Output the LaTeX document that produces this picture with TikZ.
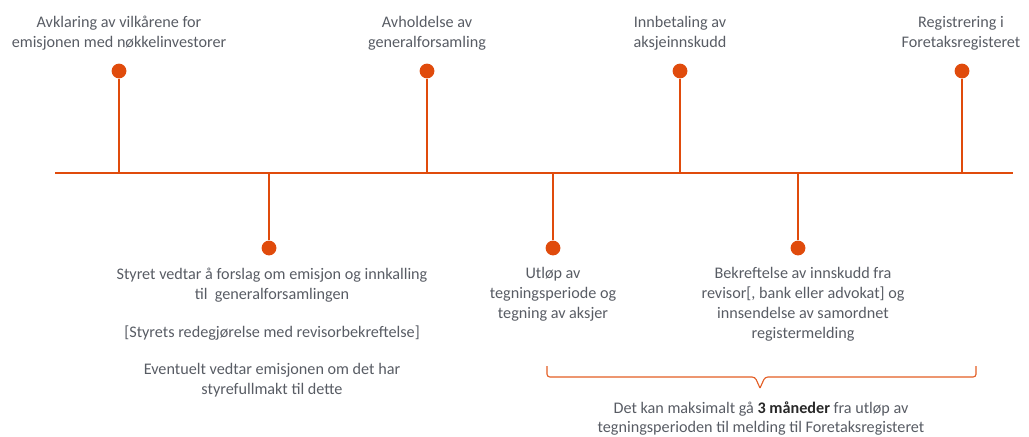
\documentclass[tikz,border=0pt]{standalone}
\usepackage{fontspec}
\setmainfont{Carlito}
\usepackage{tikz}
\usetikzlibrary{positioning, calc}
\definecolor{TLOrange}{RGB}{224,75,12}
\definecolor{TLGrey}{RGB}{88,92,100}
\definecolor{TLDark}{RGB}{40,40,40}

\begin{document}
\begin{tikzpicture}[x=0.025cm, y=-0.025cm,
          dot/.style={circle, fill=TLOrange, inner sep=0pt, minimum size=0.37cm},
          stem/.style={draw=TLOrange, line width=1.5pt},
          axis/.style={draw=TLOrange, line width=2pt},
          brc/.style={draw=TLOrange!90, line width=0.8pt, rounded corners=2pt},
          lbl/.style={align=center, text=TLGrey, inner sep=0pt, anchor=north,
                      font=\fontsize{11.5}{14.2}\selectfont}
        ]
        \useasboundingbox (0,0) rectangle (1029,436);

        % Time line
        \coordinate (tlS) at (55,173);
        \coordinate (tlE) at (1013,173);
        \draw[axis] (tlS) -- (tlE);

        % Events above the line
        \node[dot] (avk) at (119,71) {};
        \node[dot] (gf)  at (427,71) {};
        \node[dot] (inn) at (680,71) {};
        \node[dot] (reg) at (962,71) {};
        \draw[stem] (avk) -- (avk |- tlS);
        \draw[stem] (gf)  -- (gf |- tlS);
        \draw[stem] (inn) -- (inn |- tlS);
        \draw[stem] (reg) -- (reg |- tlS);

        \node[lbl] (avkT) at (119,16) {Avklaring av vilkårene for\\emisjonen med nøkkelinvestorer};
        \node[lbl] (gfT)  at (427,16) {Avholdelse av\\generalforsamling};
        \node[lbl] (innT) at (680,16) {Innbetaling av\\aksjeinnskudd};
        \node[lbl] (regT) at (961,16) {Registrering i\\Foretaksregisteret};

        % Events below the line
        \node[dot] (sty) at (269,248) {};
        \node[dot] (utl) at (553,248) {};
        \node[dot] (bek) at (798,248) {};
        \draw[stem] (sty) -- (sty |- tlS);
        \draw[stem] (utl) -- (utl |- tlS);
        \draw[stem] (bek) -- (bek |- tlS);

        \node[lbl] (styT) at (272,268)
              {Styret vedtar å forslag om emisjon og innkalling\\til~ generalforsamlingen\\[12.5pt]
               [Styrets redegjørelse med revisorbekreftelse]\\[12.5pt]
               Eventuelt vedtar emisjonen om det har\\styrefullmakt til dette};
        \node[lbl] (utlT) at (553,267) {Utløp av\\tegningsperiode og\\tegning av aksjer};
        \node[lbl] (bekT) at (803,267)
              {Bekreftelse av innskudd fra\\revisor[, bank eller advokat] og\\innsendelse av samordnet\\registermelding};

        % Brace over the period
        \coordinate (brL) at (547,366);
        \coordinate (brR) at (976,366);
        \coordinate (brTip) at (760,388);
        \draw[brc] (brL) |- ($(brTip)+(-5,-11)$) -- (brTip);
        \draw[brc] (brR) |- ($(brTip)+(5,-11)$) -- (brTip);
        \node[lbl] (maks) at (761,401)
              {Det kan maksimalt gå {\bfseries\color{TLDark}3 måneder} fra utløp av\\tegningsperioden til melding til Foretaksregisteret};
      \end{tikzpicture}
\end{document}
